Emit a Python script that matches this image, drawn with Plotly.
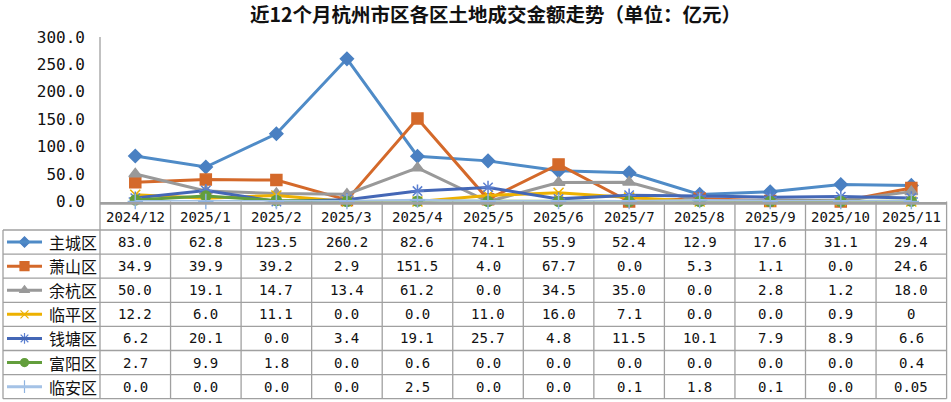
import plotly.graph_objects as go

W, H = 951, 402

title = "近12个月杭州市区各区土地成交金额走势（单位：亿元）"
months = ["2024/12", "2025/1", "2025/2", "2025/3", "2025/4", "2025/5",
          "2025/6", "2025/7", "2025/8", "2025/9", "2025/10", "2025/11"]
y_ticks = [0, 50, 100, 150, 200, 250, 300]

# values as printed in the data table (亿元)
zhucheng = ["83.0", "62.8", "123.5", "260.2", "82.6", "74.1", "55.9", "52.4", "12.9", "17.6", "31.1", "29.4"]
xiaoshan = ["34.9", "39.9", "39.2", "2.9", "151.5", "4.0", "67.7", "0.0", "5.3", "1.1", "0.0", "24.6"]
yuhang   = ["50.0", "19.1", "14.7", "13.4", "61.2", "0.0", "34.5", "35.0", "0.0", "2.8", "1.2", "18.0"]
linping  = ["12.2", "6.0", "11.1", "0.0", "0.0", "11.0", "16.0", "7.1", "0.0", "0.0", "0.9", "0"]
qiantang = ["6.2", "20.1", "0.0", "3.4", "19.1", "25.7", "4.8", "11.5", "10.1", "7.9", "8.9", "6.6"]
fuyang   = ["2.7", "9.9", "1.8", "0.0", "0.6", "0.0", "0.0", "0.0", "0.0", "0.0", "0.0", "0.4"]
linan    = ["0.0", "0.0", "0.0", "0.0", "2.5", "0.0", "0.0", "0.1", "1.8", "0.1", "0.0", "0.05"]

series_names = ["主城区", "萧山区", "余杭区", "临平区", "钱塘区", "富阳区", "临安区"]
series_vals = [zhucheng, xiaoshan, yuhang, linping, qiantang, fuyang, linan]

styles = [
    dict(color="#4F8BC7", mcolor="#4A80C2", symbol="diamond", size=10),
    dict(color="#D4692A", mcolor="#D4692A", symbol="square", size=11),
    dict(color="#999999", mcolor="#999999", symbol="triangle-up", size=11),
    dict(color="#EDB100", mcolor="#EDB100", symbol="x-thin-open", size=10),
    dict(color="#4467B6", mcolor="#5B7FD0", symbol="asterisk-open", size=11),
    dict(color="#639E3C", mcolor="#639E3C", symbol="circle", size=10),
    dict(color="#A4C2E6", mcolor="#8FB3E0", symbol="cross-thin-open", size=11),
]

MONO = "DejaVu Sans Mono"
CJK = "Noto Sans CJK SC"
GRID = "#A0A0A0"

# layout geometry (pixels)
x0, x1 = 100.0, 946.6
ncol = len(months)
cw = (x1 - x0) / ncol
y_top, y_zero = 37.0, 201.5
hdr_top, hdr_bot = 204.0, 230.0
row_h = 24.1
leg_x0 = 3.0

def px(x):
    return x / W

def py(y):
    return 1 - y / H

fig = go.Figure()

for name, vals, st in zip(series_names, series_vals, styles):
    fig.add_trace(go.Scatter(
        x=list(range(ncol)), y=[float(v) for v in vals], name=name,
        mode="lines+markers", cliponaxis=False, showlegend=False,
        line=dict(color=st["color"], width=3),
        marker=dict(symbol=st["symbol"], size=st["size"], color=st["mcolor"],
                    line=dict(color=st["mcolor"], width=1.5)),
    ))

shapes = []
annotations = []

# table grid
nrows = len(series_names)
row_lines = [hdr_bot + row_h * k for k in range(nrows + 1)]
shapes.append(dict(type="line", xref="paper", yref="paper",
                   x0=px(x0), x1=px(x1), y0=py(hdr_top), y1=py(hdr_top),
                   line=dict(color=GRID, width=1.3)))
for yy in row_lines:
    shapes.append(dict(type="line", xref="paper", yref="paper",
                       x0=px(leg_x0), x1=px(x1), y0=py(yy), y1=py(yy),
                       line=dict(color=GRID, width=1.3)))
for i in range(ncol + 1):
    xx = x0 + i * cw
    ys = y_top if i == 0 else y_zero
    shapes.append(dict(type="line", xref="paper", yref="paper",
                       x0=px(xx), x1=px(xx), y0=py(ys), y1=py(row_lines[-1]),
                       line=dict(color=GRID, width=1.3)))
shapes.append(dict(type="line", xref="paper", yref="paper",
                   x0=px(leg_x0), x1=px(leg_x0), y0=py(hdr_bot), y1=py(row_lines[-1]),
                   line=dict(color=GRID, width=1.3)))

# header labels
for i, m in enumerate(months):
    annotations.append(dict(xref="paper", yref="paper", x=px(x0 + (i + 0.5) * cw),
                            y=py((hdr_top + hdr_bot) / 2), text=m, showarrow=False,
                            xanchor="center", yanchor="middle",
                            font=dict(family=MONO, size=14, color="#111111")))

# rows: legend glyph + values
for r, (name, vals, st) in enumerate(zip(series_names, series_vals, styles)):
    yc = hdr_bot + row_h * (r + 0.5)
    shapes.append(dict(type="line", xref="paper", yref="paper",
                       x0=px(7), x1=px(42), y0=py(yc), y1=py(yc),
                       line=dict(color=st["color"], width=3)))
    fig.add_trace(go.Scatter(
        x=[24.5], y=[yc], xaxis="x2", yaxis="y2", mode="markers",
        showlegend=False, hoverinfo="skip", cliponaxis=False,
        marker=dict(symbol=st["symbol"], size=st["size"] - 2, color=st["mcolor"],
                    line=dict(color=st["mcolor"], width=1.2)),
    ))
    annotations.append(dict(xref="paper", yref="paper", x=px(47), y=py(yc),
                            text=name, showarrow=False, xanchor="left", yanchor="middle",
                            font=dict(family=CJK, size=16, color="#111111")))
    for i, v in enumerate(vals):
        annotations.append(dict(xref="paper", yref="paper", x=px(x0 + (i + 0.5) * cw),
                                y=py(yc), text=v, showarrow=False,
                                xanchor="center", yanchor="middle",
                                font=dict(family=MONO, size=14, color="#111111")))

# title
annotations.append(dict(xref="paper", yref="paper", x=px(495), y=py(13),
                        text="<b>" + title + "</b>", showarrow=False,
                        xanchor="center", yanchor="middle",
                        font=dict(family=CJK, size=19.5, color="#111111")))

fig.update_layout(
    width=W, height=H, margin=dict(l=0, r=0, t=0, b=0, pad=0, autoexpand=False),
    paper_bgcolor="white", plot_bgcolor="rgba(0,0,0,0)",
    xaxis=dict(domain=[px(x0), px(x1)], range=[-0.5, ncol - 0.5], automargin=False,
               showticklabels=False, showgrid=False, zeroline=False,
               showline=True, linecolor=GRID, linewidth=1.5, ticks=""),
    yaxis=dict(domain=[py(y_zero), py(y_top)], range=[0, 300], automargin=False,
               tickvals=y_ticks, ticktext=[f"{t:.1f}" for t in y_ticks],
               showgrid=False, zeroline=False, showline=False, ticks="",
               ticklabelstandoff=14,
               tickfont=dict(family=MONO, size=16, color="#111111")),
    xaxis2=dict(domain=[0, 1], range=[0, W], visible=False, anchor="y2", automargin=False),
    yaxis2=dict(domain=[0, 1], range=[H, 0], visible=False, anchor="x2", automargin=False),
    shapes=shapes, annotations=annotations,
    showlegend=False,
)

fig.write_html("out.html", config={"displayModeBar": False},
               post_script="document.body.style.margin='0px';document.body.style.overflow='hidden';")
